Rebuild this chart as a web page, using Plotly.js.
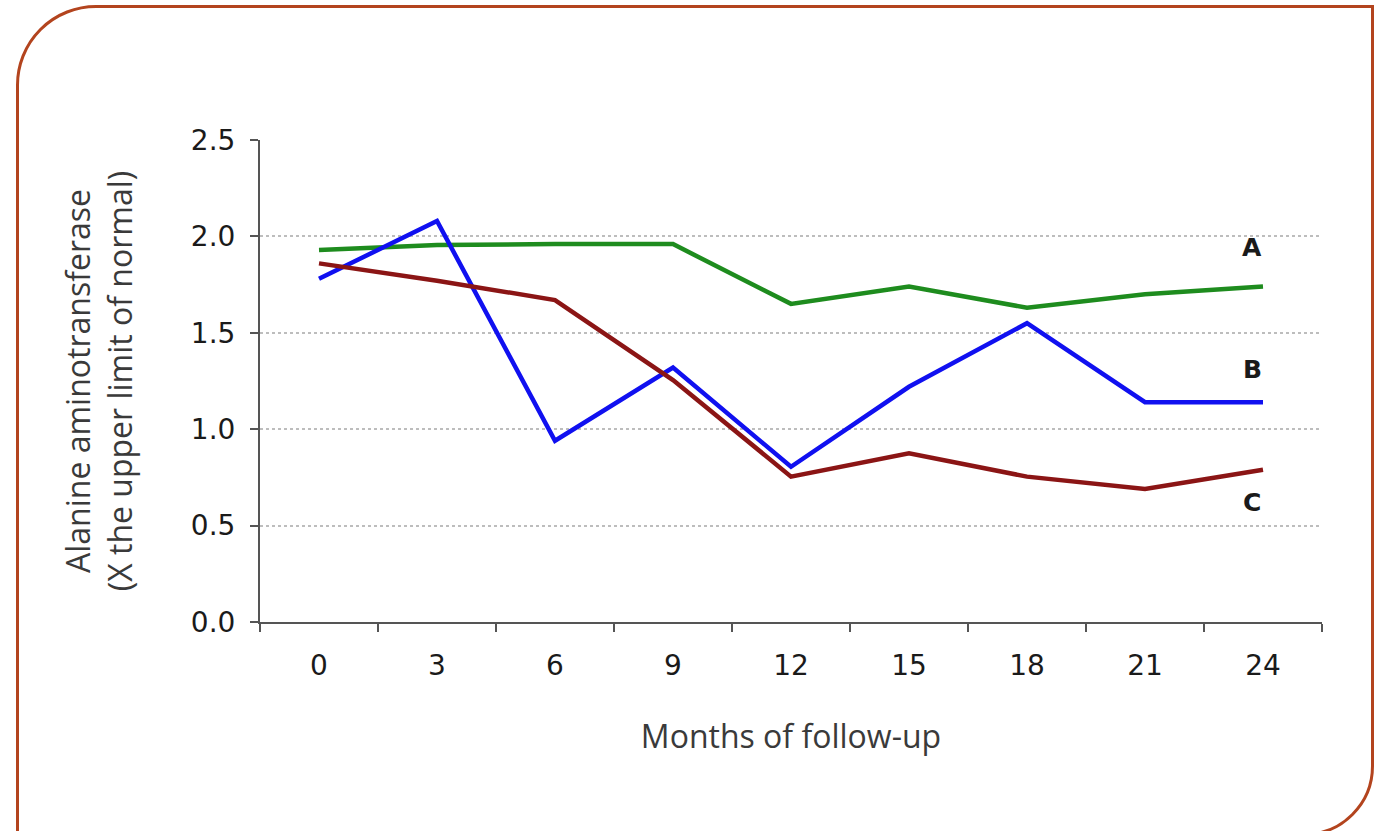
<!DOCTYPE html>
<html>
<head>
<meta charset="utf-8">
<script src="https://cdn.plot.ly/plotly-3.0.1.min.js"></script>
<style>
  html, body { margin: 0; padding: 0; background: #fff; }
  #wrap { position: relative; width: 1383px; height: 831px; overflow: hidden; }
  #chart { position: absolute; left: 0; top: 0; width: 1383px; height: 831px; }
  #frame { position: absolute; left: 16px; top: 5px; width: 1352px; height: 825px;
           border: 3px solid #B3441E; border-top-left-radius: 80px; border-bottom-right-radius: 70px;
           border-top-right-radius: 0; border-bottom-left-radius: 0; pointer-events: none; }
</style>
</head>
<body>
<div id="wrap">
  <div id="chart"></div>
  <div id="frame"></div>
</div>
<script>
const months = ['0', '3', '6', '9', '12', '15', '18', '21', '24'];
const seriesA = [1.93, 1.955, 1.96, 1.96, 1.65, 1.74, 1.63, 1.70, 1.74];
const seriesB = [1.78, 2.08, 0.94, 1.32, 0.805, 1.22, 1.55, 1.14, 1.14];
const seriesC = [1.86, 1.77, 1.67, 1.255, 0.754, 0.875, 0.754, 0.69, 0.79];
const seriesNames = ['A', 'B', 'C'];
const labelY = [1.94, 1.31, 0.62];
const colors = ['#1E8C1E', '#1010F0', '#8B1515'];

const allSeries = [seriesA, seriesB, seriesC];
const traces = allSeries.map((ys, i) => ({
  type: 'scatter', mode: 'lines', x: months, y: ys, name: seriesNames[i],
  line: { color: colors[i], width: 4.5 }, hoverinfo: 'x+y+name'
}));

const annotations = seriesNames.map((n, i) => ({
  x: 7.91, y: labelY[i], xref: 'x', yref: 'y', text: '<b>' + n + '</b>', showarrow: false,
  font: { family: 'DejaVu Sans, sans-serif', size: 25, color: '#1a1a1a' }
}));

const tickFont = { family: 'DejaVu Sans, sans-serif', size: 28, color: '#1a1a1a' };
const titleFont = { family: 'Open Sans, sans-serif', size: 32, color: '#3a3a3a' };

const layout = {
  width: 1383, height: 831,
  margin: { l: 260, r: 61, t: 140, b: 209, autoexpand: false },
  paper_bgcolor: '#fff', plot_bgcolor: '#fff',
  showlegend: false,
  font: { family: 'DejaVu Sans, sans-serif', color: '#222' },
  xaxis: {
    type: 'category', categoryorder: 'array', categoryarray: months,
    range: [-0.5, 8.5], tickson: 'boundaries', ticks: 'outside', ticklen: 8, tickwidth: 2,
    tickcolor: '#555', showline: true, linecolor: '#555', linewidth: 2,
    showgrid: false, zeroline: false, ticklabelstandoff: 17,
    tickfont: tickFont,
    title: { text: 'Months of follow-up', standoff: 45, font: titleFont },
    automargin: false
  },
  yaxis: {
    range: [0, 2.5], tick0: 0, dtick: 0.5, tickformat: '.1f',
    ticks: 'outside', ticklen: 8, tickwidth: 2, tickcolor: '#555',
    showline: true, linecolor: '#555', linewidth: 2,
    showgrid: true, gridcolor: '#bdbdbd', gridwidth: 2, griddash: 'dot',
    zeroline: false, ticklabelstandoff: 9,
    tickfont: tickFont,
    title: { text: 'Alanine aminotransferase<br>(X the upper limit of normal)', standoff: 49, font: titleFont },
    automargin: false
  },
  annotations: annotations
};

Plotly.newPlot('chart', traces, layout, { displayModeBar: false, staticPlot: true });
</script>
</body>
</html>
